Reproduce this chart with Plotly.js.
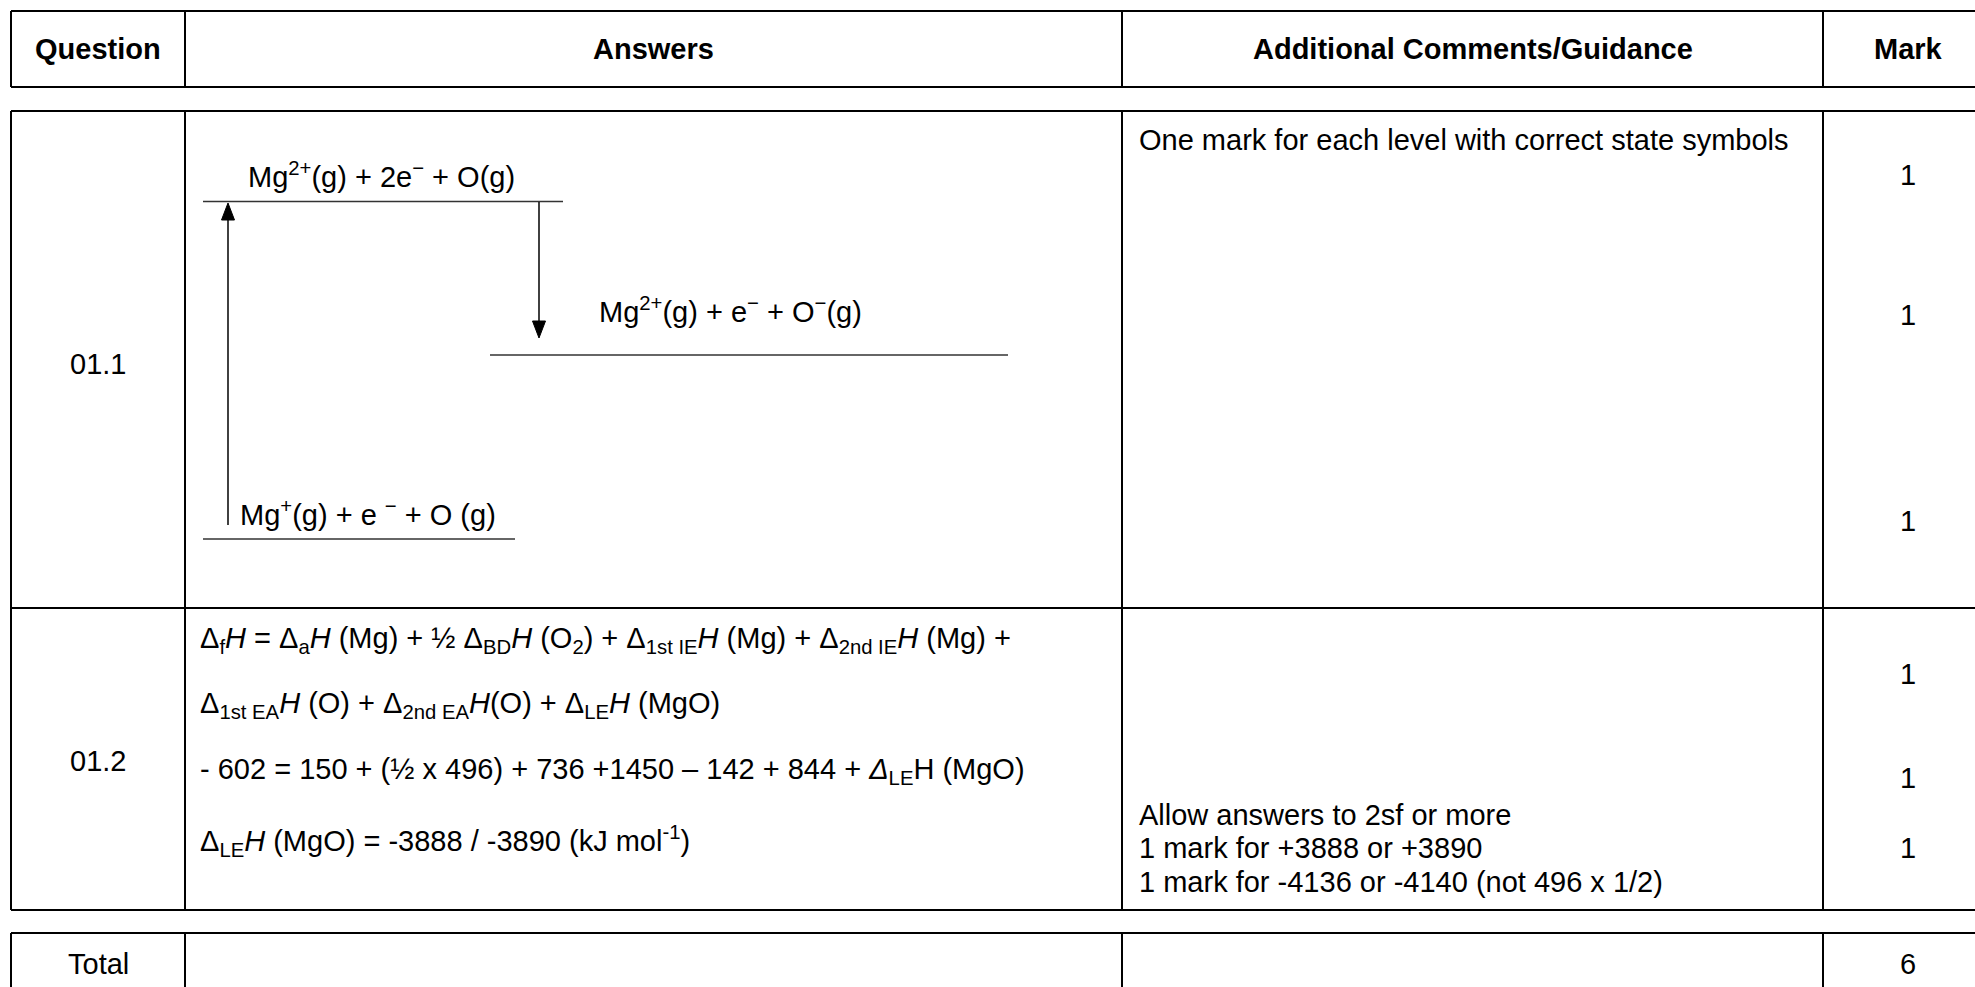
<!DOCTYPE html>
<html>
<head>
<meta charset="utf-8">
<script src="https://cdn.plot.ly/plotly-3.0.1.min.js"></script>
<style>
html,body{margin:0;padding:0;background:#fff;}
#chart{width:1975px;height:987px;}
</style>
</head>
<body>
<div id="chart"></div>
<script>
// ---------- content ----------
const headers = ["Question", "Answers", "Additional Comments/Guidance", "Mark"];
const questions = ["01.1", "01.2"];
const levelLabels = [
  "Mg<sup>2+</sup>(g) + 2e<sup>−</sup> + O(g)",
  "Mg<sup>2+</sup>(g) + e<sup>−</sup> + O<sup>−</sup>(g)",
  "Mg<sup>+</sup>(g) + e <sup>−</sup> + O (g)"
];
const answerLines = [
  "Δ<sub>f</sub><i>H</i> = Δ<sub>a</sub><i>H</i> (Mg) + ½ Δ<sub>BD</sub><i>H</i> (O<sub>2</sub>) + Δ<sub>1st IE</sub><i>H</i> (Mg) + Δ<sub>2nd IE</sub><i>H</i> (Mg) +",
  "Δ<sub>1st EA</sub><i>H</i> (O) + Δ<sub>2nd EA</sub><i>H</i>(O) + Δ<sub>LE</sub><i>H</i> (MgO)",
  "- 602 = 150 + (½ x 496) + 736 +1450 – 142 + 844 + <i>Δ</i><sub>LE</sub>H (MgO)",
  "Δ<sub>LE</sub><i>H</i> (MgO) = -3888 / -3890 (kJ mol<sup>-1</sup>)"
];
const guidanceRow1 = ["One mark for each level with correct state symbols"];
const guidanceRow2 = ["Allow answers to 2sf or more", "1 mark for +3888 or +3890", "1 mark for -4136 or -4140 (not 496 x 1/2)"];
const marksRow1 = [1, 1, 1];
const marksRow2 = [1, 1, 1];
const totalLabel = "Total";
const totalMark = [6];

// ---------- layout geometry ----------
const W = 1975, H = 987;
const colX = [11, 185, 1122, 1823, 1993];
const headY = [11, 87];
const bodyY = [111, 608, 910];
const totY = [933, 1000];
const FS = 29;
const FONT = "Liberation Sans, Arial, sans-serif";

const shapes = [];
const annotations = [];

function line(x0, y0, x1, y1, w, c) {
  shapes.push({type: "line", xref: "x", yref: "y", x0, y0, x1, y1, line: {color: c || "#000", width: w}});
}
function box(x0, x1, y0, y1) {
  line(x0, y0, x1, y0, 2); line(x0, y1, x1, y1, 2);
  line(x0, y0, x0, y1, 2); line(x1, y0, x1, y1, 2);
}
function text(t, x, y, anchor, bold) {
  annotations.push({xref: "x", yref: "y", x, y, text: bold ? "<b>" + t + "</b>" : t, showarrow: false,
    xanchor: anchor || "left", yanchor: "middle", font: {family: FONT, size: FS, color: "#000"}, borderpad: 0});
}
function arrow(x, yTail, yTip) {
  const dir = yTip > yTail ? 1 : -1;
  const hl = 17, hw = 6.5;
  line(x, yTail, x, yTip - dir * hl, 1.6, "#111");
  shapes.push({type: "path", xref: "x", yref: "y",
    path: `M ${x} ${yTip} L ${x - hw} ${yTip - dir * hl} L ${x + hw} ${yTip - dir * hl} Z`,
    fillcolor: "#000", line: {color: "#000", width: 1}});
}

// header table
box(colX[0], colX[4], headY[0], headY[1]);
for (let i = 1; i < 4; i++) line(colX[i], headY[0], colX[i], headY[1], 2);
const colCenter = i => (colX[i] + colX[i + 1]) / 2;
headers.forEach((h, i) => text(h, colCenter(i), (headY[0] + headY[1]) / 2, "center", true));

// body table
box(colX[0], colX[4], bodyY[0], bodyY[2]);
line(colX[0], bodyY[1], colX[4], bodyY[1], 2);
for (let i = 1; i < 4; i++) line(colX[i], bodyY[0], colX[i], bodyY[2], 2);
text(questions[0], colCenter(0), 364, "center");
text(questions[1], colCenter(0), 761, "center");

// total table
box(colX[0], colX[4], totY[0], totY[1]);
for (let i = 1; i < 4; i++) line(colX[i], totY[0], colX[i], totY[1], 2);
text(totalLabel, colCenter(0), 964, "center");
text(String(totalMark[0]), colCenter(3), 964, "center");

// energy level diagram
const lvl = "#333";
line(203, 201.5, 563, 201.5, 1.6, lvl);
line(490, 355, 1008, 355, 1.6, lvl);
line(203, 539, 515, 539, 1.6, lvl);
text(levelLabels[0], 247, 175, "left");
text(levelLabels[1], 598, 310, "left");
text(levelLabels[2], 239, 513, "left");
arrow(228, 525, 203);
arrow(539, 202, 338);

// answers row 2
const ansY = [640, 705, 771, 841];
answerLines.forEach((t, i) => text(t, 199, ansY[i], "left"));

// guidance
text(guidanceRow1[0], 1138, 140, "left");
const gY = [815, 848, 882];
guidanceRow2.forEach((t, i) => text(t, 1138, gY[i], "left"));

// marks
const m1Y = [175, 315, 521];
marksRow1.forEach((m, i) => text(String(m), colCenter(3), m1Y[i], "center"));
const m2Y = [674, 778, 848];
marksRow2.forEach((m, i) => text(String(m), colCenter(3), m2Y[i], "center"));

const layout = {
  width: W, height: H,
  margin: {l: 0, r: 0, t: 0, b: 0, pad: 0},
  paper_bgcolor: "#fff", plot_bgcolor: "#fff",
  xaxis: {range: [0, W], visible: false, fixedrange: true},
  yaxis: {range: [H, 0], visible: false, fixedrange: true},
  showlegend: false, hovermode: false,
  shapes, annotations
};
Plotly.newPlot("chart", [{x: [], y: [], type: "scatter", mode: "markers", hoverinfo: "skip"}], layout,
  {displayModeBar: false, staticPlot: true});
</script>
</body>
</html>
